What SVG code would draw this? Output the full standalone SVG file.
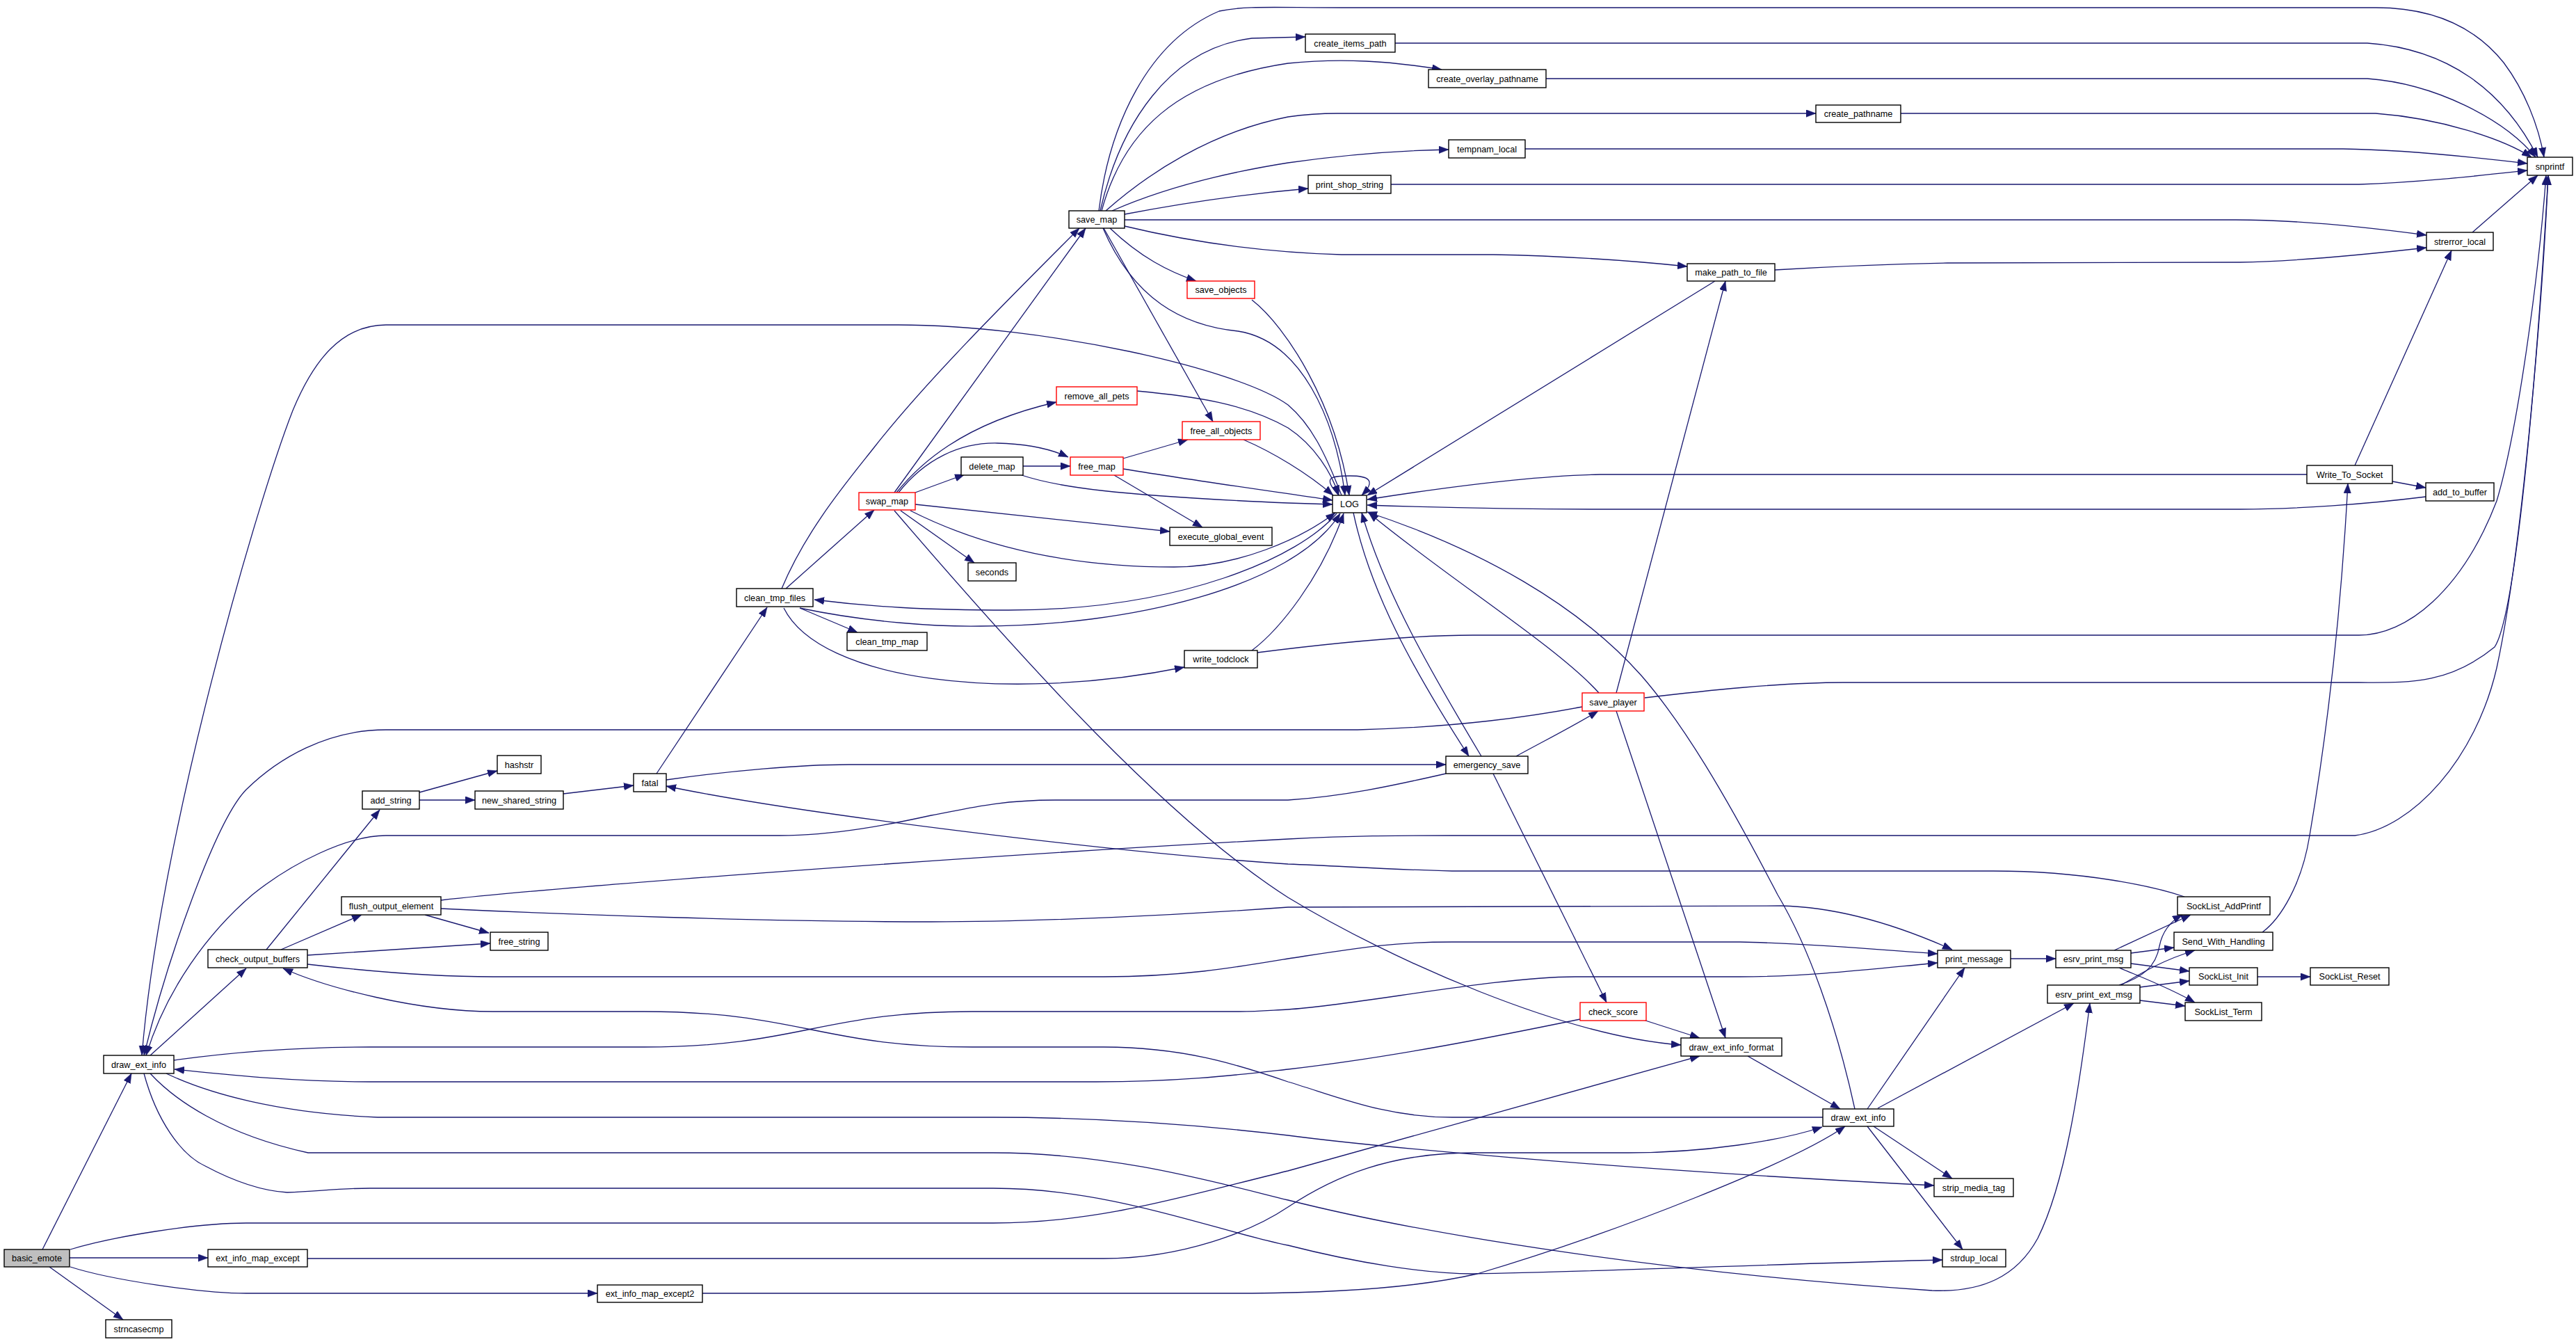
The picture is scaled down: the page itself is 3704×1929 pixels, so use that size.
<svg xmlns="http://www.w3.org/2000/svg" width="3704" height="1929" viewBox="0 0 3704 1929">
<style>
.node rect{fill:#ffffff;stroke:#000000;stroke-width:1.4}
.node.red rect{stroke:#ff0000}
.node.root rect{fill:#bfbfbf}
.node text{font-family:"Liberation Sans",Arial,sans-serif;font-size:12.7px;fill:#000000;text-anchor:middle}
.edges path{fill:none;stroke:#191970;stroke-width:1.3;marker-end:url(#ah)}
</style>
<defs>
<marker id="ah" markerUnits="userSpaceOnUse" markerWidth="15" markerHeight="11" refX="14" refY="5.25" orient="auto">
<path d="M0,0 L14,5.25 L0,10.5 Z" fill="#191970" stroke="#191970" stroke-width="0.5"/>
</marker>
</defs>
<rect x="0" y="0" width="3704" height="1929" fill="#ffffff"/>
<g class="edges" id="connectors">
<path d="M61,1796 L189,1543"/>
<path d="M100,1808 L299,1808"/>
<path d="M101,1821 C160,1840 290,1859 354,1859 L859,1859"/>
<path d="M71,1821 L177,1897"/>
<path d="M101,1796 C160,1778 280,1758 354,1758 L1428,1758 C1580,1758 1700,1720 1852,1683 L2444,1518"/>
<path d="M442,1809 L1587,1809 C1700,1809 1800,1770 1852,1735 C1920,1690 2000,1657 2118,1657 L2342,1657 C2450,1657 2560,1640 2620,1620"/>
<path d="M1010,1859 L1800,1859 C1950,1858 2050,1848 2124,1831 C2330,1770 2580,1670 2653,1619"/>
<path d="M216,1517 L354,1392"/>
<path d="M404,1365 L520,1315"/>
<path d="M383,1365 L546,1164"/>
<path d="M603,1139 L715,1108"/>
<path d="M603,1150 L683,1150"/>
<path d="M810,1141 L911,1129"/>
<path d="M944,1112 L1103,873"/>
<path d="M958,1121 C1050,1108 1150,1099 1221,1099 L2079,1099"/>
<path d="M611,1315 L703,1341"/>
<path d="M442,1373 L705,1356"/>
<path d="M634,1294 C800,1275 1400,1230 1852,1206 C1950,1201 2000,1201 2088,1201 L3386,1201 C3470,1190 3560,1090 3590,960 C3625,800 3655,450 3664,252"/>
<path d="M634,1306 C800,1314 1100,1325 1339,1325 C1500,1325 1700,1315 1852,1304 C1950,1302 2100,1302 2561,1302 C2650,1304 2740,1335 2807,1365"/>
<path d="M442,1386 C520,1395 620,1404 709,1404 L1587,1404 C1700,1404 1780,1390 1852,1378 C1950,1363 2000,1354 2088,1354 L2502,1354 C2600,1356 2700,1365 2786,1371"/>
<path d="M2621,1606 L2088,1606 C1990,1606 1920,1575 1852,1555 C1780,1530 1700,1505 1587,1505 L1398,1505 C1180,1505 1150,1454 926,1454 L709,1454 C600,1454 470,1420 407,1392"/>
<path d="M250,1524 C350,1510 450,1505 532,1505 L926,1505 C1150,1505 1180,1454 1398,1454 L1782,1454 C1810,1454 1830,1452 1852,1451 C1950,1445 2150,1404 2265,1404 L2502,1404 C2600,1404 2700,1392 2786,1384"/>
<path d="M2272,1465 C2150,1490 2000,1520 1852,1537 C1780,1545 1700,1555 1576,1555 L532,1555 C420,1555 330,1545 251,1537"/>
<path d="M239,1543 C300,1572 400,1600 543,1606 L1428,1606 C1600,1606 1750,1620 1852,1632 C1950,1645 2300,1680 2781,1704"/>
<path d="M216,1543 C250,1580 320,1630 443,1657 L1428,1657 C1600,1657 1750,1700 1852,1725 C2050,1775 2400,1830 2778,1855 C2850,1858 2900,1835 2930,1780 C2970,1700 2990,1560 3005,1442"/>
<path d="M207,1543 C225,1610 260,1660 295,1676 C340,1700 380,1712 413,1714 C460,1712 490,1708 532,1708 L1428,1708 C1600,1708 1750,1770 1852,1790 C1950,1815 2050,1831 2118,1831 C2300,1828 2600,1815 2793,1811"/>
<path d="M2667,1594 C2640,1470 2600,1360 2556,1286 C2480,1140 2420,1040 2360,971 C2270,870 2130,790 1966,736"/>
<path d="M2685,1594 L2825,1391"/>
<path d="M2700,1593 L2982,1442"/>
<path d="M2694,1619 L2807,1694"/>
<path d="M2685,1619 L2822,1796"/>
<path d="M2513,1518 L2646,1594"/>
<path d="M2363,1466 L2444,1492"/>
<path d="M2147,1112 L2310,1441"/>
<path d="M2324,1022 L2481,1492"/>
<path d="M1286,734 C1480,960 1680,1180 1852,1290 C2000,1380 2250,1490 2417,1502"/>
<path d="M2275,1016 C2200,1030 2100,1045 1952,1049 L555,1049 C470,1049 400,1090 354,1135 C310,1180 240,1380 207,1517"/>
<path d="M1929,712 C1905,650 1885,610 1852,582 C1780,530 1500,467 1292,467 L555,467 C490,467 450,520 421,590 C370,720 230,1200 204,1517"/>
<path d="M2079,1112 C2000,1130 1930,1145 1852,1150 L1517,1150 C1430,1150 1380,1165 1339,1172 C1280,1185 1200,1201 1121,1201 L555,1201 C500,1201 420,1240 363,1286 C300,1340 240,1420 210,1517"/>
<path d="M1124,846 C1160,760 1220,690 1257,643 C1330,550 1440,440 1552,328"/>
<path d="M1286,708 L1561,328"/>
<path d="M1289,708 C1320,670 1380,610 1519,578"/>
<path d="M1292,708 C1330,660 1380,636 1434,637 C1480,638 1510,645 1536,657"/>
<path d="M1316,708 L1387,682"/>
<path d="M1470,670 L1539,670"/>
<path d="M1469,683 C1520,700 1600,712 1852,723 L1916,725"/>
<path d="M1615,674 C1700,688 1800,702 1916,719"/>
<path d="M1615,659 L1708,632"/>
<path d="M1602,683 L1729,758"/>
<path d="M1316,725 L1682,764"/>
<path d="M1309,734 C1400,780 1520,815 1688,815 C1780,815 1870,775 1920,737"/>
<path d="M1295,734 L1401,809"/>
<path d="M1130,846 L1257,733"/>
<path d="M1922,738 C1870,800 1700,877 1450,877 C1330,877 1250,872 1171,862"/>
<path d="M1150,874 C1250,895 1350,901 1410,900 C1620,900 1860,845 1927,738"/>
<path d="M1150,874 L1233,909"/>
<path d="M1127,874 C1180,980 1450,1010 1703,959"/>
<path d="M1800,935 C1840,905 1900,830 1932,738"/>
<path d="M1808,938 C1950,920 2050,913 2118,913 L3392,913 C3460,913 3540,850 3590,720 C3620,620 3650,400 3661,252"/>
<path d="M2365,1003 C2450,993 2560,981 2650,981 L3392,981 C3460,981 3520,985 3587,930 C3620,880 3650,500 3664,252"/>
<path d="M2324,996 L2481,404"/>
<path d="M2299,996 C2240,930 2080,830 1968,737"/>
<path d="M2180,1087 C2220,1065 2260,1045 2298,1022"/>
<path d="M1946,737 C1970,850 2030,960 2112,1087"/>
<path d="M2130,1087 C2060,970 1990,850 1958,737"/>
<path d="M2466,404 L1966,712"/>
<path d="M2552,388 C2650,382 2750,379 2800,378 L3221,377 C3300,376 3400,366 3489,356"/>
<path d="M1617,316 L3215,316 C3300,316 3400,326 3489,338"/>
<path d="M1617,325 C1700,345 1800,362 1929,366 L2147,366 C2250,368 2350,375 2426,383"/>
<path d="M1580,303 C1595,180 1650,60 1753,16 C1790,8 1830,11 1929,11 L3416,11 C3500,11 3560,40 3600,90 C3630,130 3650,180 3658,226"/>
<path d="M1582,303 C1610,180 1680,70 1800,55 L1877,53"/>
<path d="M1584,303 C1615,190 1690,115 1852,91 C1930,83 2000,88 2073,100"/>
<path d="M1590,303 C1650,250 1740,190 1852,168 C1880,164 1900,163 1923,163 L2611,163"/>
<path d="M1599,303 C1640,285 1720,255 1852,234 C1950,220 2030,216 2083,215"/>
<path d="M1617,308 C1700,292 1800,278 1881,271"/>
<path d="M1596,328 C1640,370 1680,390 1720,404"/>
<path d="M1587,328 L1744,606"/>
<path d="M1586,328 C1630,430 1700,468 1780,476 C1870,490 1920,600 1934,712"/>
<path d="M1800,431 C1850,470 1920,580 1940,712"/>
<path d="M1635,562 C1720,570 1790,580 1852,615 C1890,640 1915,680 1925,712"/>
<path d="M1788,632 C1830,650 1880,680 1917,712"/>
<path d="M1925,712 C1900,685 1915,684 1941,684 C1967,684 1980,690 1958,712"/>
<path d="M3317,682 L2301,682 C2200,684 2080,700 1966,718"/>
<path d="M3488,714 C3400,725 3300,732 3221,732 L2301,732 C2150,732 2050,729 1966,726"/>
<path d="M3440,692 L3488,701"/>
<path d="M3386,669 L3525,360"/>
<path d="M3253,1340 C3280,1320 3310,1270 3321,1201 C3345,1060 3365,900 3376,695"/>
<path d="M3555,334 L3649,252"/>
<path d="M2006,62 L3404,62 C3520,70 3600,130 3649,226"/>
<path d="M2223,113 L3404,113 C3500,120 3600,170 3646,226"/>
<path d="M2733,163 L3416,163 C3510,170 3600,200 3640,226"/>
<path d="M2193,214 L3369,214 C3450,215 3550,225 3634,235"/>
<path d="M2000,265 L3392,265 C3480,262 3560,253 3634,245"/>
<path d="M3141,1289 C3100,1275 3000,1252 2866,1252 L2088,1252 C2000,1250 1930,1245 1852,1242 C1600,1225 1150,1170 958,1130"/>
<path d="M3040,1366 L3150,1315"/>
<path d="M3064,1370 L3126,1362"/>
<path d="M3064,1385 L3148,1396"/>
<path d="M3047,1391 C3080,1405 3120,1420 3156,1441"/>
<path d="M3047,1416 C3080,1405 3100,1390 3105,1360 C3110,1335 3125,1322 3138,1315"/>
<path d="M3050,1416 C3080,1398 3110,1380 3156,1366"/>
<path d="M3077,1419 L3148,1410"/>
<path d="M3077,1438 L3142,1446"/>
<path d="M3246,1404 L3322,1404"/>
<path d="M2891,1378 L2956,1378"/>
</g>
<g id="n_basic_emote" class="node root"><rect x="6" y="1796" width="94" height="25"/><text x="53" y="1813">basic_emote</text></g>
<g id="n_draw_ext_info_1" class="node"><rect x="149" y="1517" width="101" height="26"/><text x="199.5" y="1534.5">draw_ext_info</text></g>
<g id="n_check_output_buffers" class="node"><rect x="299" y="1365" width="143" height="26"/><text x="370.5" y="1382.5">check_output_buffers</text></g>
<g id="n_flush_output_element" class="node"><rect x="491" y="1289" width="143" height="26"/><text x="562.5" y="1306.5">flush_output_element</text></g>
<g id="n_free_string" class="node"><rect x="705" y="1340" width="83" height="26"/><text x="746.5" y="1357.5">free_string</text></g>
<g id="n_add_string" class="node"><rect x="521" y="1137" width="82" height="26"/><text x="562" y="1154.5">add_string</text></g>
<g id="n_hashstr" class="node"><rect x="715" y="1086" width="63" height="26"/><text x="746.5" y="1103.5">hashstr</text></g>
<g id="n_new_shared_string" class="node"><rect x="683" y="1137" width="127" height="26"/><text x="746.5" y="1154.5">new_shared_string</text></g>
<g id="n_fatal" class="node"><rect x="911" y="1112" width="47" height="26"/><text x="934.5" y="1129.5">fatal</text></g>
<g id="n_clean_tmp_files" class="node"><rect x="1059" y="846" width="110" height="26"/><text x="1114" y="863.5">clean_tmp_files</text></g>
<g id="n_clean_tmp_map" class="node"><rect x="1218" y="909" width="115" height="26"/><text x="1275.5" y="926.5">clean_tmp_map</text></g>
<g id="n_swap_map" class="node red"><rect x="1235" y="708" width="81" height="25"/><text x="1275.5" y="725">swap_map</text></g>
<g id="n_delete_map" class="node"><rect x="1382" y="657" width="89" height="26"/><text x="1426.5" y="674.5">delete_map</text></g>
<g id="n_free_map" class="node red"><rect x="1539" y="657" width="76" height="26"/><text x="1577" y="674.5">free_map</text></g>
<g id="n_seconds" class="node"><rect x="1392" y="809" width="69" height="26"/><text x="1426.5" y="826.5">seconds</text></g>
<g id="n_execute_global_event" class="node"><rect x="1682" y="758" width="147" height="26"/><text x="1755.5" y="775.5">execute_global_event</text></g>
<g id="n_remove_all_pets" class="node red"><rect x="1519" y="556" width="116" height="26"/><text x="1577" y="573.5">remove_all_pets</text></g>
<g id="n_free_all_objects" class="node red"><rect x="1700" y="606" width="112" height="26"/><text x="1756" y="623.5">free_all_objects</text></g>
<g id="n_save_objects" class="node red"><rect x="1707" y="404" width="97" height="25"/><text x="1755.5" y="421">save_objects</text></g>
<g id="n_save_map" class="node"><rect x="1537" y="303" width="80" height="25"/><text x="1577" y="320">save_map</text></g>
<g id="n_create_items_path" class="node"><rect x="1877" y="49" width="129" height="26"/><text x="1941.5" y="66.5">create_items_path</text></g>
<g id="n_create_overlay_pathname" class="node"><rect x="2054" y="100" width="169" height="26"/><text x="2138.5" y="117.5">create_overlay_pathname</text></g>
<g id="n_create_pathname" class="node"><rect x="2611" y="151" width="122" height="25"/><text x="2672" y="168">create_pathname</text></g>
<g id="n_tempnam_local" class="node"><rect x="2083" y="201" width="110" height="26"/><text x="2138" y="218.5">tempnam_local</text></g>
<g id="n_print_shop_string" class="node"><rect x="1881" y="252" width="119" height="26"/><text x="1940.5" y="269.5">print_shop_string</text></g>
<g id="n_make_path_to_file" class="node"><rect x="2426" y="379" width="126" height="25"/><text x="2489" y="396">make_path_to_file</text></g>
<g id="n_snprintf" class="node"><rect x="3634" y="226" width="65" height="26"/><text x="3666.5" y="243.5">snprintf</text></g>
<g id="n_strerror_local" class="node"><rect x="3489" y="334" width="96" height="26"/><text x="3537" y="351.5">strerror_local</text></g>
<g id="n_LOG" class="node"><rect x="1916" y="712" width="49" height="25"/><text x="1940.5" y="729">LOG</text></g>
<g id="n_write_todclock" class="node"><rect x="1703" y="935" width="105" height="25"/><text x="1755.5" y="952">write_todclock</text></g>
<g id="n_save_player" class="node red"><rect x="2275" y="996" width="89" height="26"/><text x="2319.5" y="1013.5">save_player</text></g>
<g id="n_emergency_save" class="node"><rect x="2079" y="1087" width="118" height="25"/><text x="2138" y="1104">emergency_save</text></g>
<g id="n_Write_To_Socket" class="node"><rect x="3317" y="669" width="123" height="26"/><text x="3378.5" y="686.5">Write_To_Socket</text></g>
<g id="n_add_to_buffer" class="node"><rect x="3488" y="694" width="98" height="26"/><text x="3537" y="711.5">add_to_buffer</text></g>
<g id="n_check_score" class="node red"><rect x="2272" y="1441" width="95" height="26"/><text x="2319.5" y="1458.5">check_score</text></g>
<g id="n_draw_ext_info_format" class="node"><rect x="2417" y="1492" width="145" height="26"/><text x="2489.5" y="1509.5">draw_ext_info_format</text></g>
<g id="n_draw_ext_info_2" class="node"><rect x="2621" y="1594" width="102" height="25"/><text x="2672" y="1611">draw_ext_info</text></g>
<g id="n_SockList_AddPrintf" class="node"><rect x="3131" y="1289" width="133" height="26"/><text x="3197.5" y="1306.5">SockList_AddPrintf</text></g>
<g id="n_Send_With_Handling" class="node"><rect x="3126" y="1340" width="142" height="26"/><text x="3197" y="1357.5">Send_With_Handling</text></g>
<g id="n_print_message" class="node"><rect x="2786" y="1366" width="105" height="25"/><text x="2838.5" y="1383">print_message</text></g>
<g id="n_esrv_print_msg" class="node"><rect x="2956" y="1366" width="108" height="25"/><text x="3010" y="1383">esrv_print_msg</text></g>
<g id="n_SockList_Init" class="node"><rect x="3148" y="1391" width="98" height="25"/><text x="3197" y="1408">SockList_Init</text></g>
<g id="n_SockList_Reset" class="node"><rect x="3322" y="1391" width="113" height="25"/><text x="3378.5" y="1408">SockList_Reset</text></g>
<g id="n_esrv_print_ext_msg" class="node"><rect x="2944" y="1416" width="133" height="26"/><text x="3010.5" y="1433.5">esrv_print_ext_msg</text></g>
<g id="n_SockList_Term" class="node"><rect x="3142" y="1441" width="110" height="26"/><text x="3197" y="1458.5">SockList_Term</text></g>
<g id="n_strip_media_tag" class="node"><rect x="2781" y="1694" width="114" height="26"/><text x="2838" y="1711.5">strip_media_tag</text></g>
<g id="n_strdup_local" class="node"><rect x="2793" y="1796" width="91" height="25"/><text x="2838.5" y="1813">strdup_local</text></g>
<g id="n_ext_info_map_except" class="node"><rect x="299" y="1796" width="143" height="25"/><text x="370.5" y="1813">ext_info_map_except</text></g>
<g id="n_ext_info_map_except2" class="node"><rect x="859" y="1847" width="151" height="25"/><text x="934.5" y="1864">ext_info_map_except2</text></g>
<g id="n_strncasecmp" class="node"><rect x="152" y="1897" width="95" height="26"/><text x="199.5" y="1914.5">strncasecmp</text></g>
</svg>
